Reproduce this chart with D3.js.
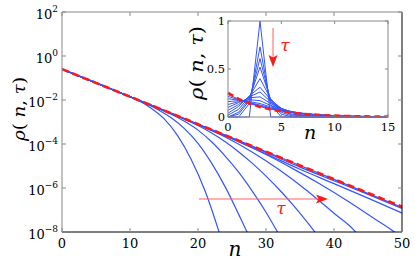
<!DOCTYPE html>
<html>
<head>
<meta charset="utf-8">
<script src="https://cdn.jsdelivr.net/npm/d3@7"></script>
<style>
  body { margin: 0; background: #fff; }
  svg { display: block; }
</style>
</head>
<body>
<svg id="chart" width="415" height="262"></svg>
<script>
// main panel: log10 rho against n
const stationary = [[0, -0.60], [10, -1.85], [20, -3.10], [30, -4.35], [40, -5.60], [50, -6.85]];
const mainCurves = [
  [[0, -0.60], [5, -1.21], [9, -1.73], [11, -1.99], [13, -2.35], [15, -2.85], [17, -3.62], [19, -4.70], [21, -6.10], [23.1, -8.0], [24, -8.9]],
  [[0, -0.60], [5, -1.21], [10, -1.85], [12, -2.11], [14, -2.42], [16, -2.80], [18, -3.30], [20, -3.97], [22, -4.87], [24, -5.95], [26, -7.21], [27.2, -8.0], [28, -8.6]],
  [[0, -0.60], [10, -1.85], [14, -2.36], [16, -2.64], [18, -2.97], [20, -3.37], [22, -3.90], [24, -4.55], [26, -5.29], [28, -6.15], [30, -7.10], [32, -8.17]],
  [[0, -0.60], [10, -1.85], [16, -2.61], [18, -2.87], [20, -3.16], [22, -3.50], [24, -3.90], [26, -4.36], [28, -4.88], [30, -5.46], [32, -6.09], [34, -6.78], [36, -7.53], [38, -8.33]],
  [[0, -0.60], [10, -1.85], [20, -3.12], [24, -3.68], [28, -4.37], [32, -5.18], [36, -6.11], [40, -7.15], [43, -7.94], [44, -8.32]],
  [[0, -0.60], [10, -1.85], [22, -3.37], [26, -3.90], [30, -4.48], [34, -5.13], [38, -5.83], [42, -6.59], [46, -7.41], [49, -8.03], [50, -8.29]],
  [[0, -0.60], [10, -1.85], [20, -3.11], [25, -3.76], [30, -4.45], [35, -5.15], [40, -5.80], [45, -6.46], [50, -7.14]],
  [[0, -0.60], [10, -1.85], [20, -3.10], [30, -4.38], [35, -5.05], [40, -5.67], [45, -6.29], [50, -6.93]],
  [[0, -0.60], [10, -1.85], [20, -3.10], [30, -4.35], [40, -5.61], [50, -6.88]]
];
const mainXTicks = [0, 10, 20, 30, 40, 50];
const mainYExps = [2, 0, -2, -4, -6, -8];

// inset: rho at n = 0..15 for successive tau
const insetN = d3.range(0, 16);
const insetStationary = [0.25, 0.1875, 0.141, 0.105, 0.079, 0.059, 0.044, 0.033, 0.025, 0.019, 0.014, 0.011, 0.008, 0.006, 0.0045, 0.0034];
const insetCurves = [
  [0, 0, 0, 1, 0, 0, 0, 0, 0, 0, 0, 0, 0, 0, 0, 0],
  [0, 0, 0.14, 0.73, 0.13, 0, 0, 0, 0, 0, 0, 0, 0, 0, 0, 0],
  [0, 0.03, 0.17, 0.61, 0.16, 0.03, 0, 0, 0, 0, 0, 0, 0, 0, 0, 0],
  [0, 0.05, 0.19, 0.52, 0.18, 0.05, 0.01, 0, 0, 0, 0, 0, 0, 0, 0, 0],
  [0.02, 0.08, 0.21, 0.40, 0.19, 0.07, 0.02, 0.01, 0, 0, 0, 0, 0, 0, 0, 0],
  [0.04, 0.11, 0.22, 0.31, 0.18, 0.09, 0.03, 0.015, 0.005, 0, 0, 0, 0, 0, 0, 0],
  [0.07, 0.13, 0.21, 0.26, 0.16, 0.09, 0.045, 0.02, 0.01, 0.005, 0, 0, 0, 0, 0, 0],
  [0.10, 0.15, 0.20, 0.21, 0.14, 0.09, 0.05, 0.03, 0.015, 0.008, 0.004, 0, 0, 0, 0, 0],
  [0.13, 0.16, 0.18, 0.17, 0.12, 0.085, 0.055, 0.035, 0.022, 0.013, 0.008, 0.004, 0, 0, 0, 0],
  [0.16, 0.17, 0.16, 0.14, 0.105, 0.078, 0.055, 0.038, 0.026, 0.018, 0.012, 0.008, 0.005, 0, 0, 0],
  [0.19, 0.175, 0.15, 0.125, 0.095, 0.072, 0.053, 0.039, 0.028, 0.02, 0.014, 0.01, 0.007, 0.005, 0, 0],
  [0.215, 0.18, 0.145, 0.115, 0.087, 0.066, 0.049, 0.037, 0.027, 0.02, 0.015, 0.011, 0.008, 0.006, 0.004, 0],
  [0.235, 0.185, 0.142, 0.108, 0.082, 0.061, 0.046, 0.034, 0.026, 0.019, 0.014, 0.011, 0.008, 0.006, 0.0045, 0.0034]
];
const insetXTicks = [0, 5, 10, 15];
const insetYTicks = [0, 0.5, 1];

const blue = '#3355ff';
const red = '#ff1a1a';
const FONT = 'DejaVu Serif';
const svg = d3.select('#chart');

// every text node gets the serif face set on itself
function label(g, px, py, size) {
  return g.append('text')
    .attr('x', px).attr('y', py)
    .attr('font-family', FONT)
    .style('font-family', FONT)
    .attr('font-size', size);
}

// ---- main panel
const x = d3.scaleLinear().domain([0, 50]).range([62, 402]);
const y = d3.scaleLog().domain([1e-8, 1e2]).range([232, 12]);

svg.append('clipPath').attr('id', 'clipMain')
  .append('rect').attr('x', 62).attr('y', 12).attr('width', 340).attr('height', 220);

const mainLine = d3.line()
  .x(d => x(d[0]))
  .y(d => y(Math.pow(10, d[1])))
  .curve(d3.curveMonotoneX);

const plot = svg.append('g').attr('clip-path', 'url(#clipMain)');
plot.selectAll('path.blue')
  .data(mainCurves)
  .enter()
  .append('path')
  .attr('class', 'blue')
  .attr('d', mainLine)
  .attr('fill', 'none')
  .attr('stroke', blue)
  .attr('stroke-width', 1.2);

plot.append('path')
  .attr('d', mainLine(stationary))
  .attr('fill', 'none')
  .attr('stroke', red)
  .attr('stroke-width', 2.6)
  .attr('stroke-dasharray', '7,4');

// frame + inward ticks
const frame = svg.append('g');
frame.append('line').attr('x1', 62).attr('x2', 402).attr('y1', 12).attr('y2', 12).attr('stroke', '#888');
frame.append('line').attr('x1', 62).attr('x2', 62).attr('y1', 12).attr('y2', 232).attr('stroke', '#888');
frame.append('line').attr('x1', 62).attr('x2', 402).attr('y1', 232).attr('y2', 232).attr('stroke', '#000');
frame.append('line').attr('x1', 402).attr('x2', 402).attr('y1', 12).attr('y2', 232).attr('stroke', '#000');

mainXTicks.forEach(t => {
  frame.append('line').attr('x1', x(t)).attr('x2', x(t)).attr('y1', 232).attr('y2', 228).attr('stroke', '#888');
  frame.append('line').attr('x1', x(t)).attr('x2', x(t)).attr('y1', 12).attr('y2', 16).attr('stroke', '#888');
  label(frame, x(t), 248, 13).attr('text-anchor', 'middle').text(t);
});
mainYExps.forEach(e => {
  const yy = y(Math.pow(10, e));
  frame.append('line').attr('x1', 62).attr('x2', 66).attr('y1', yy).attr('y2', yy).attr('stroke', '#888');
  frame.append('line').attr('x1', 402).attr('x2', 398).attr('y1', yy).attr('y2', yy).attr('stroke', '#888');
  const lab = label(frame, 58, yy + 6.5, 13).attr('text-anchor', 'end');
  lab.append('tspan').text('10');
  lab.append('tspan').attr('dy', -7).attr('font-size', 9).text(e < 0 ? '\u2212' + (-e) : e);
});

label(svg, 235, 256, 20).attr('text-anchor', 'middle').attr('font-style', 'italic').text('n');

function rhoLabel(g, cx, cy, size, len) {
  const t = label(g, 0, 0, size).attr('transform', `translate(${cx},${cy}) rotate(-90)`)
    .attr('text-anchor', 'middle')
    .attr('textLength', len).attr('lengthAdjust', 'spacingAndGlyphs');
  t.append('tspan').attr('font-style', 'italic').text('\u03c1');
  t.append('tspan').text('( ');
  t.append('tspan').attr('font-style', 'italic').text('n');
  t.append('tspan').text(', ');
  t.append('tspan').attr('font-style', 'italic').text('\u03c4');
  t.append('tspan').text(')');
}
rhoLabel(svg, 25, 109, 17, 64);

// tau arrow in the main panel
svg.append('line').attr('x1', 199).attr('x2', 318).attr('y1', 199).attr('y2', 199)
  .attr('stroke', '#ff6060').attr('stroke-width', 1);
svg.append('path').attr('d', 'M328,199 L316,194.5 L318.5,199 L316,203.5 Z').attr('fill', red);
label(svg, 281, 214, 17).attr('text-anchor', 'middle')
  .attr('font-style', 'italic').attr('fill', red).text('\u03c4');

// ---- inset
const ix = d3.scaleLinear().domain([0, 15]).range([228, 388]);
const iy = d3.scaleLinear().domain([0, 1]).range([117, 21]);

const inset = svg.append('g');
inset.append('rect').attr('x', 228).attr('y', 21).attr('width', 160).attr('height', 96).attr('fill', '#fff');

const insetLine = d3.line()
  .x((d, i) => ix(insetN[i]))
  .y(d => iy(d));

inset.selectAll('path.blue')
  .data(insetCurves)
  .enter()
  .append('path')
  .attr('class', 'blue')
  .attr('d', insetLine)
  .attr('fill', 'none')
  .attr('stroke', blue)
  .attr('stroke-width', 1);

inset.append('path')
  .attr('d', insetLine(insetStationary))
  .attr('fill', 'none')
  .attr('stroke', red)
  .attr('stroke-width', 2.6)
  .attr('stroke-dasharray', '6,4');

inset.append('rect').attr('x', 228).attr('y', 21).attr('width', 160).attr('height', 96)
  .attr('fill', 'none').attr('stroke', '#888');

insetXTicks.forEach(t => {
  inset.append('line').attr('x1', ix(t)).attr('x2', ix(t)).attr('y1', 117).attr('y2', 114).attr('stroke', '#888');
  inset.append('line').attr('x1', ix(t)).attr('x2', ix(t)).attr('y1', 21).attr('y2', 24).attr('stroke', '#888');
  label(inset, ix(t), 131, 11.5).attr('text-anchor', 'middle').text(t);
});
insetYTicks.forEach(t => {
  inset.append('line').attr('x1', 228).attr('x2', 231).attr('y1', iy(t)).attr('y2', iy(t)).attr('stroke', '#888');
  inset.append('line').attr('x1', 388).attr('x2', 385).attr('y1', iy(t)).attr('y2', iy(t)).attr('stroke', '#888');
  label(inset, 225, iy(t) + 4, 11.5).attr('text-anchor', 'end').text(t);
});

label(inset, 310, 139, 19).attr('text-anchor', 'middle').attr('font-style', 'italic').text('n');
rhoLabel(inset, 203, 63, 18, 74);

// tau arrow in the inset
inset.append('line').attr('x1', 273).attr('x2', 273).attr('y1', 28).attr('y2', 58)
  .attr('stroke', '#ff6060').attr('stroke-width', 1);
inset.append('path').attr('d', 'M273,67 L268.5,55 L273,57.5 L277.5,55 Z').attr('fill', red);
label(inset, 285, 51, 17).attr('text-anchor', 'middle')
  .attr('font-style', 'italic').attr('fill', red).text('\u03c4');
</script>
</body>
</html>
